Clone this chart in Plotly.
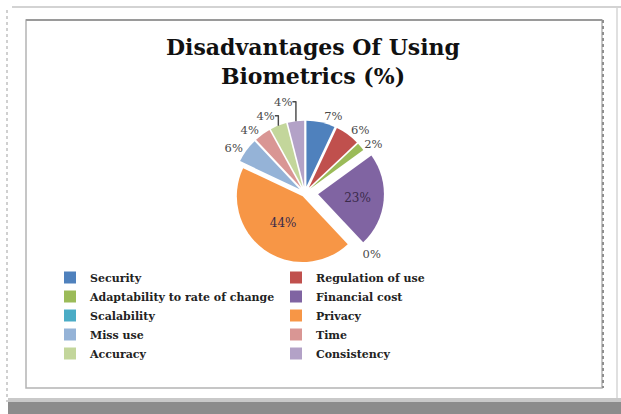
import plotly.graph_objects as go

categories = ["Security", "Regulation of use", "Adaptability to rate of change",
              "Financial cost", "Scalability", "Privacy", "Miss use", "Time",
              "Accuracy", "Consistency"]
values = [7, 6, 2, 23, 0, 44, 6, 4, 4, 4]
colors = ["#4F81BD", "#C0504D", "#9BBB59", "#8064A2", "#4BACC6", "#F79646",
          "#95B3D7", "#D99694", "#C3D69B", "#B3A2C7"]
pulls = [0.1, 0.1, 0.1, 0.2, 0.2, 0.06, 0.1, 0.1, 0.1, 0.1]
text_pos = ["outside", "outside", "outside", "inside", "outside", "inside",
            "outside", "outside", "outside", "outside"]

W, H = 621, 414


def px(x):
    return x / W


def py(y):
    return 1 - y / H


fig = go.Figure()
fig.add_trace(go.Pie(
    labels=categories, values=values, sort=False, direction="clockwise",
    rotation=0, pull=pulls, textinfo="percent", textposition=text_pos,
    insidetextorientation="horizontal",
    marker=dict(colors=colors, line=dict(width=0)),
    outsidetextfont=dict(family="DejaVu Serif", size=11.5, color="#4a4a4a"),
    insidetextfont=dict(family="DejaVu Serif", size=12, color="#3a2a4a"),
    domain=dict(x=[px(226), px(384)], y=[py(272), py(114)]),
    showlegend=True,
))

shapes = [
    # outer page frame
    dict(type="line", xref="paper", yref="paper", x0=px(12), x1=px(621), y0=py(7), y1=py(7),
         line=dict(color="#c4c4c4", width=1.5)),
    dict(type="line", xref="paper", yref="paper", x0=px(7), x1=px(7), y0=py(10), y1=py(402),
         line=dict(color="#d0d0d0", width=2, dash="dot")),
    dict(type="line", xref="paper", yref="paper", x0=px(617), x1=px(617), y0=py(8), y1=py(400),
         line=dict(color="#d6d6d6", width=1.5)),
    dict(type="rect", xref="paper", yref="paper", x0=px(8), x1=px(621), y0=py(398), y1=py(402),
         fillcolor="#c9c9c9", line=dict(width=0)),
    dict(type="rect", xref="paper", yref="paper", x0=px(8), x1=px(621), y0=py(402), y1=py(414),
         fillcolor="#8c8c8c", line=dict(width=0)),
    # inner frame
    dict(type="rect", xref="paper", yref="paper", x0=px(26), x1=px(602), y0=py(20), y1=py(388),
         line=dict(color="#b4b4b4", width=1.5)),
    dict(type="line", xref="paper", yref="paper", x0=px(26), x1=px(602), y0=py(20), y1=py(20),
         line=dict(color="#9a9a9a", width=2)),
    dict(type="line", xref="paper", yref="paper", x0=px(603), x1=px(603), y0=py(20), y1=py(388),
         line=dict(color="#8e8e8e", width=2, dash="dot")),
]

fig.update_layout(
    width=W, height=H,
    margin=dict(l=0, r=0, t=0, b=0),
    paper_bgcolor="white",
    plot_bgcolor="white",
    title=dict(text="Disadvantages Of Using<br>Biometrics (%)",
               x=px(313), xanchor="center", y=py(55), yanchor="top",
               font=dict(family="DejaVu Serif", size=22, color="#111111", weight="bold")),
    legend=dict(orientation="h", x=px(50), xanchor="left", y=py(263), yanchor="top",
                entrywidth=181, entrywidthmode="pixels", traceorder="normal",
                font=dict(family="DejaVu Serif", size=11, color="#222222", weight="bold"),
                itemwidth=30, bgcolor="rgba(0,0,0,0)"),
    shapes=shapes,
)

fig.write_html("out.html")
